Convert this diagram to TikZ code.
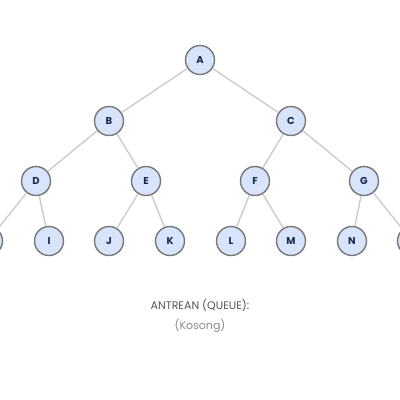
\documentclass[tikz,border=0pt]{standalone}
\usepackage{fontspec}
\setmainfont{Poppins}
\usetikzlibrary{positioning}
\definecolor{nodeFill}{HTML}{D8E4FB}
\definecolor{nodeStroke}{HTML}{777777}
\definecolor{nodeText}{HTML}{1B2A4E}
\definecolor{edgeCol}{HTML}{CCCCCC}
\definecolor{qTitle}{HTML}{555555}
\definecolor{qBody}{HTML}{8A8A8A}

\begin{document}
\begin{tikzpicture}[
  x=1pt, y=-1pt,
  tnode/.style={circle, draw=nodeStroke, fill=nodeFill, line width=1.4pt,
                minimum size=29pt, inner sep=0pt, text=nodeText,
                font=\fontsize{10}{11}\selectfont\bfseries},
  edge/.style={draw=edgeCol, line width=1.4pt},
  qlbl/.style={font=\fontsize{11}{12}\selectfont, inner sep=1pt}
]
\useasboundingbox (0,0) rectangle (400,400);
\clip (0,0) rectangle (400,400);

% ============ LEVEL 0/1/2 ============
\node[tnode] (A) at (200,60)  {A};
\node[tnode] (B) at (109,121) {B};
\node[tnode] (C) at (291,121) {C};
\node[tnode] (D) at (36,181)  {D};
\node[tnode] (E) at (146,181) {E};
\node[tnode] (F) at (255,181) {F};
\node[tnode] (G) at (364,181) {G};

% ============ LEAVES ============
\node[tnode] (H) at (-12,241) {H};
\node[tnode] (I) at (49,241)  {I};
\node[tnode] (J) at (109,241) {J};
\node[tnode] (K) at (170,241) {K};
\node[tnode] (L) at (231,241) {L};
\node[tnode] (M) at (291,241) {M};
\node[tnode] (N) at (352,241) {N};
\node[tnode] (O) at (412,241) {O};

\foreach \p/\c in {A/B,A/C,B/D,B/E,C/F,C/G,D/H,D/I,E/J,E/K,F/L,F/M,G/N,G/O}
  \draw[edge] (\p) -- (\c);

% ============ QUEUE ============
\node[qlbl, text=qTitle] (qhead) at (200,305) {ANTREAN (QUEUE):};
\node[qlbl, text=qBody, below=6pt of qhead] (qbody) {(Kosong)};

\end{tikzpicture}
\end{document}
